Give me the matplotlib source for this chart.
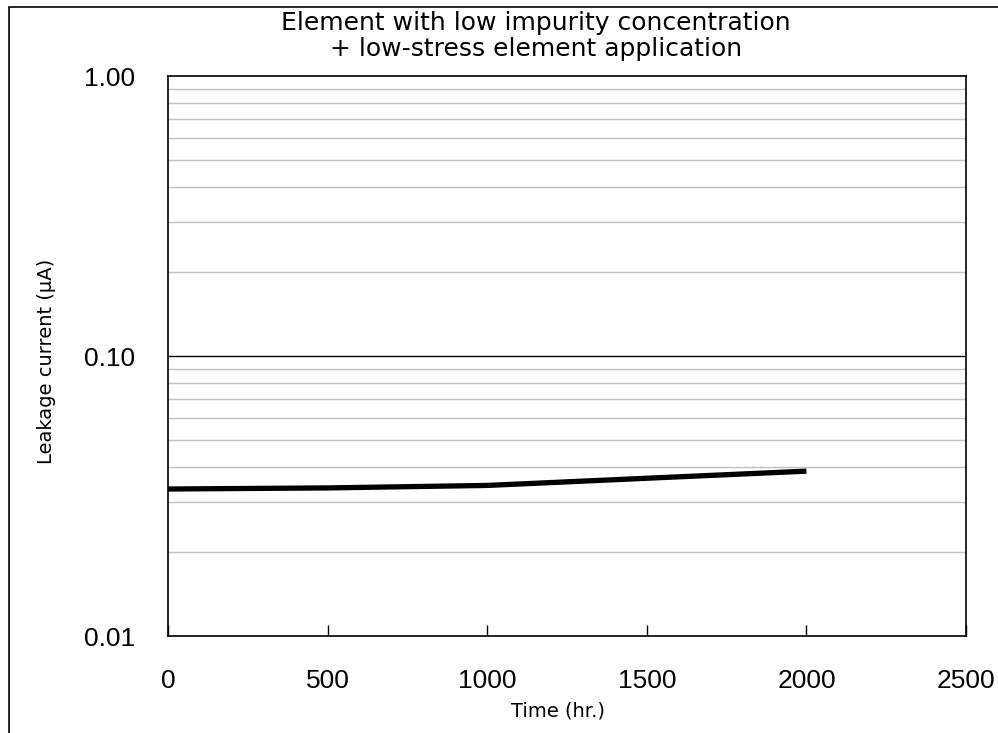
import matplotlib
matplotlib.use('Agg')
import matplotlib.pyplot as plt
from matplotlib.patches import Rectangle
from matplotlib.ticker import FixedLocator, NullFormatter

time_hr = [0, 500, 1000, 1500, 2000]
leak_uA = [0.0335, 0.0338, 0.0345, 0.0366, 0.0388]

xticks = [0, 500, 1000, 1500, 2000, 2500]
yticks = [0.01, 0.1, 1.0]
ytick_labels = ['0.01', '0.10', '1.00']

plt.rcParams['font.family'] = ['Liberation Sans', 'DejaVu Sans']
label_font = ['DejaVu Sans']

fig = plt.figure(figsize=(9.98, 7.33), dpi=100)
ax = fig.add_axes([0.1683, 0.1323, 0.968 - 0.1683, 0.8963 - 0.1323])

# minor gray grid, black line at 0.1
minors = [m * d for d in (0.01, 0.1) for m in range(2, 10)]
for v in minors:
    ax.axhline(v, color='#c0c0c0', lw=1, zorder=1)
ax.axhline(0.1, color='black', lw=1, zorder=1)

ax.plot(time_hr, leak_uA, color='black', lw=3.8, solid_capstyle='butt', zorder=3)

ax.set_yscale('log')
ax.set_ylim(0.01, 1.0)
ax.set_xlim(0, 2500)
ax.yaxis.set_major_locator(FixedLocator(yticks))
ax.set_yticklabels(ytick_labels, fontsize=19)
ax.yaxis.set_minor_locator(FixedLocator([]))
ax.yaxis.set_minor_formatter(NullFormatter())
ax.tick_params(axis='y', length=0, pad=24)
ax.set_xticks(xticks)
ax.set_xticklabels([str(t) for t in xticks], fontsize=19)
ax.tick_params(axis='x', direction='in', length=8, width=1, pad=24)

for s in ax.spines.values():
    s.set_linewidth(1.2)

ax.set_xlabel('Time (hr.)', fontsize=14, family=label_font, va='top')
ax.xaxis.set_label_coords(0.489, -0.117)
ax.set_ylabel('Leakage current (μA)', fontsize=14, family=label_font, va='center')
ax.yaxis.set_label_coords(-0.152, 0.491)

fig.text(0.537, 0.969, 'Element with low impurity concentration', ha='center', va='center',
         fontsize=18, family=label_font)
fig.text(0.537, 0.9325, '+ low-stress element application', ha='center', va='center',
         fontsize=18, family=label_font)

# outer chart border (right/bottom cut off like the source)
fig.patches.append(Rectangle((0.009, -0.05), 1.1, 1.04, transform=fig.transFigure,
                             fill=False, edgecolor='black', lw=1.2))

fig.savefig('out.png', dpi=100)
